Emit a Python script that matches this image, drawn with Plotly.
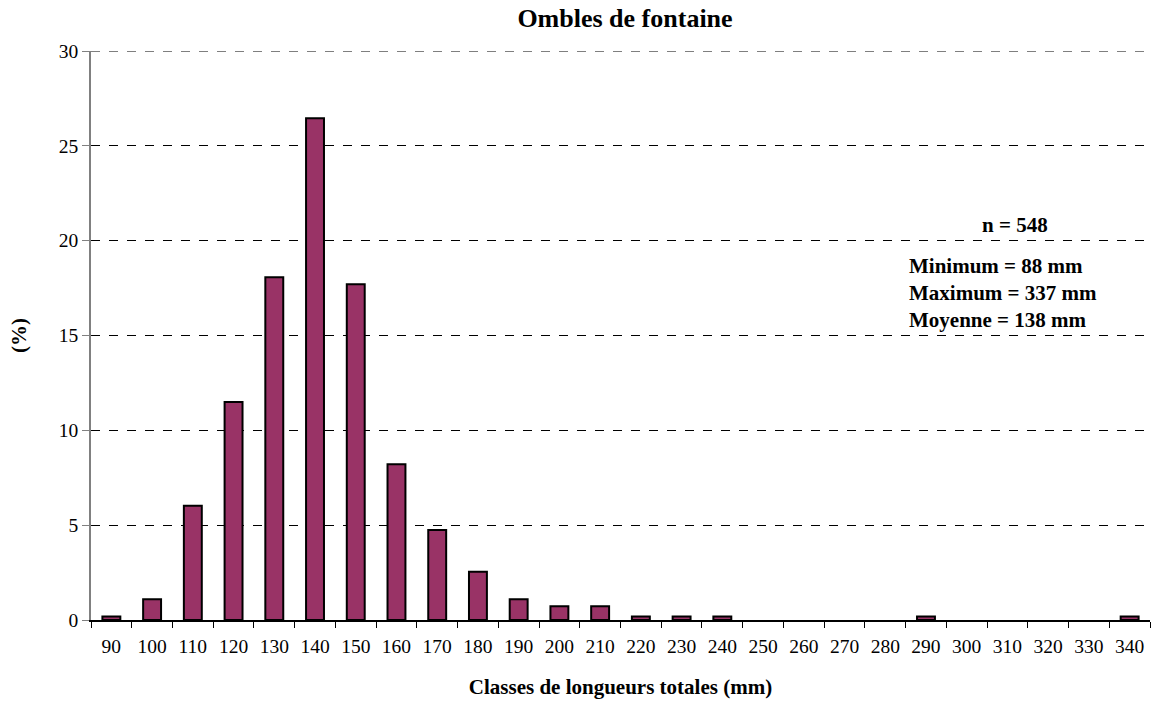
import plotly.graph_objects as go

classes = ["90", "100", "110", "120", "130", "140", "150", "160", "170", "180",
           "190", "200", "210", "220", "230", "240", "250", "260", "270", "280",
           "290", "300", "310", "320", "330", "340"]
percent = [0.18, 1.09, 6.02, 11.50, 18.07, 26.46, 17.70, 8.21, 4.74, 2.55,
           1.09, 0.73, 0.73, 0.18, 0.18, 0.18, 0, 0, 0, 0,
           0.18, 0, 0, 0, 0, 0.18]

stats_n = "n = 548"
stats_lines = ["Minimum = 88 mm", "Maximum = 337 mm", "Moyenne = 138 mm"]

FONT = "Liberation Serif, Times New Roman, serif"
W, H = 1151, 709
L, R, T, B = 91, 1, 51, 89
plot_w = W - L - R

fig = go.Figure()
fig.add_trace(go.Bar(
    x=classes, y=percent,
    marker=dict(color="#993366",
                line=dict(color="black", width=[2 if v > 0 else 0 for v in percent])),
))

fig.update_layout(
    width=W, height=H,
    margin=dict(l=L, r=R, t=T, b=B),
    paper_bgcolor="white", plot_bgcolor="white",
    bargap=0.56,
    showlegend=False,
    font=dict(family=FONT, size=19.5, color="black"),
    title=dict(text="<b>Ombles de fontaine</b>", xref="paper", x=(625 - L) / plot_w,
               xanchor="center", y=1 - 18 / H, yanchor="middle",
               font=dict(family=FONT, size=26)),
    xaxis=dict(
        type="category", tickson="boundaries", ticks="outside", ticklen=6,
        tickcolor="black", showline=True, linecolor="black", linewidth=1.5,
        showgrid=False, ticklabelstandoff=8,
        title=dict(text="<b>Classes de longueurs totales (mm)</b>",
                   font=dict(family=FONT, size=21), standoff=23),
        tickfont=dict(family=FONT, size=19.5),
    ),
    yaxis=dict(
        range=[0, 30], dtick=5, ticks="outside", ticklen=7, tickcolor="#808080",
        showline=True, linecolor="#808080", linewidth=1.5,
        showgrid=True, gridcolor="black", griddash="dash", gridwidth=1,
        zeroline=False,
        title=dict(text="<b>(%)</b>", font=dict(family=FONT, size=21), standoff=26),
        tickfont=dict(family=FONT, size=19.5),
    ),
)

# top gridline at 30 (plotly omits the grid line at the range edge)
fig.add_shape(type="line", xref="paper", yref="y", x0=0, x1=1, y0=30, y1=30,
              line=dict(color="black", width=1, dash="dash"), layer="below")

ann_font = dict(family=FONT, size=21, color="black")
fig.add_annotation(xref="paper", yref="paper", x=(1015 - L) / plot_w,
                   y=(H - B - 225) / (H - T - B),
                   text="<b>" + stats_n + "</b>", showarrow=False,
                   xanchor="center", yanchor="middle", font=ann_font)
for i, line in enumerate(stats_lines):
    fig.add_annotation(xref="paper", yref="paper", x=(907 - L) / plot_w,
                       y=(H - B - (266 + 27 * i)) / (H - T - B),
                       text="<b>" + line + "</b>", showarrow=False,
                       xanchor="left", yanchor="middle", font=ann_font)

fig.write_html("out.html", config={"displayModeBar": False},
               post_script="document.body.style.margin='0px';")
